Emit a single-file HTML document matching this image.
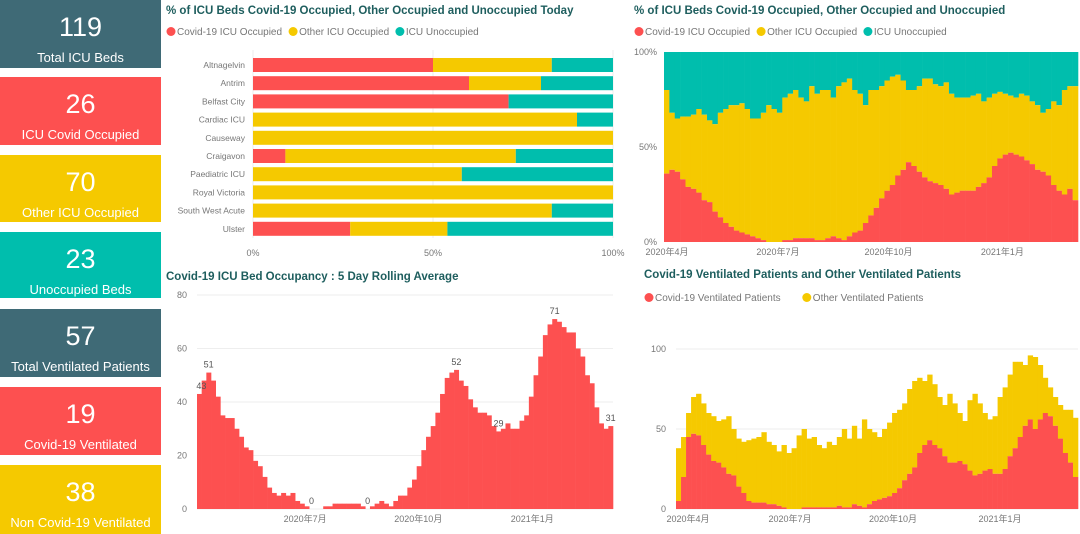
<!DOCTYPE html>
<html><head><meta charset="utf-8"><style>
body{margin:0;width:1080px;height:534px;background:#fff;overflow:hidden;font-family:"Liberation Sans","Noto Sans CJK SC",sans-serif}
.kpi{position:absolute;left:0;width:161px;color:#fff;text-align:center}
.kpi .v{font-size:27px;line-height:30px;padding-top:12px}
.kpi .l{font-size:13px;line-height:16px;margin-top:8px}
svg text{font-family:"Liberation Sans","Noto Sans CJK SC",sans-serif}
</style></head><body>
<div class="kpi" style="top:0;height:68px;background:#3f6a76"><div class="v">119</div><div class="l">Total ICU Beds</div></div>
<div class="kpi" style="top:77px;height:68px;background:#fd5050"><div class="v">26</div><div class="l">ICU Covid Occupied</div></div>
<div class="kpi" style="top:155px;height:67px;background:#f5c900"><div class="v">70</div><div class="l">Other ICU Occupied</div></div>
<div class="kpi" style="top:232px;height:66px;background:#00bead"><div class="v">23</div><div class="l">Unoccupied Beds</div></div>
<div class="kpi" style="top:309px;height:68px;background:#3f6a76"><div class="v">57</div><div class="l">Total Ventilated Patients</div></div>
<div class="kpi" style="top:387px;height:68px;background:#fd5050"><div class="v">19</div><div class="l">Covid-19 Ventilated</div></div>
<div class="kpi" style="top:465px;height:69px;background:#f5c900"><div class="v">38</div><div class="l">Non Covid-19 Ventilated</div></div>
<svg id="s" width="1080" height="534" style="position:absolute;left:0;top:0"></svg>
<script>
// ---- chart 1: today by hospital
const hospitals=["Altnagelvin","Antrim","Belfast City","Cardiac ICU","Causeway","Craigavon","Paediatric ICU","Royal Victoria","South West Acute","Ulster"];
const hospCovid=[50,60,71,0,0,9,0,0,0,27];
const hospOther=[33,20,0,90,100,64,58,100,83,27];
const hospUnocc=[17,20,29,10,0,27,42,0,17,46];
const pctTicks=["0%","50%","100%"];
// ---- chart 2: % over time
const covidPct=[36,38,37,33,29,28,26,22,21,16,13,10,8,6,5,4,3,2,1,0,0,0,1,1,2,2,2,2,1,1,2,3,2,1,3,5,6,10,14,18,23,27,30,35,38,42,40,37,34,32,31,30,28,25,26,27,27,27,29,31,34,40,44,46,47,46,45,43,41,38,37,35,30,27,25,28,22];
const occupiedPct=[80,68,65,66,66,67,70,67,64,62,68,70,72,72,73,70,65,65,68,72,70,68,76,78,80,76,74,82,78,80,80,76,82,84,86,80,78,72,80,80,82,85,87,88,85,80,80,82,86,86,83,82,84,78,76,76,76,77,78,74,76,78,79,78,77,76,78,77,74,72,68,70,74,72,80,82,82];
const monthTicks=["2020年4月","2020年7月","2020年10月","2021年1月"];
const monthFrac=[0,0.268,0.535,0.81];
// ---- chart 3: rolling average
const rolling=[43,48,51,48,42,35,34,34,30,27,23,22,18,16,12,8,6,5,6,5,6,3,2,1,0,0,0,1,1,2,2,2,2,2,2,1,0,1,2,3,2,1,3,5,5,8,11,16,22,27,31,36,43,49,51,52,48,46,41,38,36,36,35,31,29,30,32,30,30,33,35,42,50,57,65,69,71,70,68,66,66,60,57,50,47,38,32,30,31];
const rollLabelIdx=[0,2,24,36,55,64,76,88];
const rollTicks=[0,20,40,60,80];
// ---- chart 4: ventilated
const covidVent=[5,20,45,47,46,40,34,30,29,26,22,21,14,10,5,4,4,4,3,3,2,1,0,0,0,1,1,1,1,1,1,1,2,1,1,3,2,1,3,5,6,7,8,10,13,18,22,26,35,40,43,40,38,33,29,29,30,28,24,21,22,24,25,22,22,25,33,38,45,52,56,50,56,60,58,52,44,35,29,20];
const totalVent=[38,45,60,70,72,66,60,58,55,56,58,50,44,42,43,44,45,48,42,40,36,40,35,38,46,50,44,45,40,38,42,40,45,50,44,52,44,56,50,48,45,50,54,60,62,66,75,80,82,80,84,78,70,65,72,66,60,55,68,72,66,60,56,58,70,76,84,92,92,90,96,95,90,82,76,70,65,62,62,57];
const ventTicks=[0,50,100];

const R="#fd5050",Y="#f5c900",T="#00bead",TITLE="#1e5e5e",G="#777";
const S=document.getElementById('s');
function el(tag,a,txt){const e=document.createElementNS("http://www.w3.org/2000/svg",tag);for(const k in a)e.setAttribute(k,a[k]);if(txt!==undefined)e.textContent=txt;S.appendChild(e);return e;}
function title(x,y,t,name){const e=el('text',{x:x,y:y,'font-size':11.5,'font-weight':'bold',fill:TITLE},t);

}
function legend(x,y,items,name){let cx=x;items.forEach(it=>{
const c=el('circle',{cx:cx+5,cy:y-3.5,r:4.5,fill:it[1]});


const t=el('text',{x:cx+11,y:y,'font-size':10,fill:G},it[0]);


cx+=11+it[0].length*5.1+4;});}

// Chart 1
title(166,14,"% of ICU Beds Covid-19 Occupied, Other Occupied and Unoccupied Today","today-chart-title");
legend(166,35,[["Covid-19 ICU Occupied",R],["Other ICU Occupied",Y],["ICU Unoccupied",T]],"today-legend");
const x1=v=>253+v*3.6, rowY=i=>58+i*18.2;
pctTicks.forEach((t,i)=>{const v=i*50;const g=el('line',{x1:x1(v),x2:x1(v),y1:50,y2:238,stroke:"#eee"});


const tt=el('text',{x:x1(v),y:256,'font-size':9,fill:G,'text-anchor':'middle'},t);

});
hospitals.forEach((h,i)=>{const y=rowY(i);
const lt=el('text',{x:245,y:y+10,'font-size':8.5,fill:G,'text-anchor':'end'},h);


let acc=0;[[hospCovid[i],R],[hospOther[i],Y],[hospUnocc[i],T]].forEach(p=>{if(p[0]>0){const b=el('rect',{x:x1(acc),y:y,width:x1(acc+p[0])-x1(acc),height:14,fill:p[1]});

}acc+=p[0];});});

// Chart 2
title(634,14,"% of ICU Beds Covid-19 Occupied, Other Occupied and Unoccupied","pct-time-chart-title");
legend(634,35,[["Covid-19 ICU Occupied",R],["Other ICU Occupied",Y],["ICU Unoccupied",T]],"pct-time-legend");
{const L=664,Rr=1078,top=52,bot=242,n=covidPct.length,w=(Rr-L)/n;const y=v=>bot-(bot-top)*v/100;
for(let i=0;i<n;i++){const x=L+i*w;
const a=el('rect',{x:x,y:top,width:w+0.3,height:y(occupiedPct[i])-top,fill:T});


const b=el('rect',{x:x,y:y(occupiedPct[i]),width:w+0.3,height:y(covidPct[i])-y(occupiedPct[i]),fill:Y});


const c=el('rect',{x:x,y:y(covidPct[i]),width:w+0.3,height:bot-y(covidPct[i]),fill:R});

}
pctTicks.forEach((t,i)=>{const tt=el('text',{x:657,y:y(i*50)+3,'font-size':9,fill:G,'text-anchor':'end'},t);

});
monthTicks.forEach((m,i)=>{const tt=el('text',{x:L+monthFrac[i]*(Rr-L)+3,y:255,'font-size':9,fill:G,'text-anchor':'middle'},m);

});}

// Chart 3
title(166,280,"Covid-19 ICU Bed Occupancy : 5 Day Rolling Average","rolling-chart-title");
{const L=197,Rr=613,bot=509,top=295,n=rolling.length,w=(Rr-L)/n;const y=v=>bot-(bot-top)*v/80;
rollTicks.forEach(t=>{const g=el('line',{x1:L,x2:Rr,y1:y(t),y2:y(t),stroke:"#eee"});


const tt=el('text',{x:187,y:y(t)+3,'font-size':9,fill:G,'text-anchor':'end'},t);

});
rolling.forEach((v,i)=>{const b=el('rect',{x:L+i*w,y:y(v),width:w+0.3,height:bot-y(v),fill:R});

});
rollLabelIdx.forEach(i=>{const tt=el('text',{x:L+i*w+w/2+(i==0?2:0),y:y(rolling[i])-5,'font-size':9,fill:"#555",'text-anchor':'middle'},rolling[i]);

});
[["2020年7月",0.26],["2020年10月",0.532],["2021年1月",0.806]].forEach(m=>{const tt=el('text',{x:L+m[1]*(Rr-L),y:522,'font-size':9,fill:G,'text-anchor':'middle'},m[0]);

});}

// Chart 4
title(644,278,"Covid-19 Ventilated Patients and Other Ventilated Patients","ventilated-chart-title");
legend(644,301,[["Covid-19 Ventilated Patients",R],["Other Ventilated Patients",Y]],"ventilated-legend");
{const L=676,Rr=1078,bot=509,n=covidVent.length,w=(Rr-L)/n;const y=v=>bot-1.6*v;
ventTicks.forEach(t=>{const g=el('line',{x1:L,x2:Rr,y1:y(t),y2:y(t),stroke:"#eee"});


const tt=el('text',{x:666,y:y(t)+3,'font-size':9,fill:G,'text-anchor':'end'},t);

});
for(let i=0;i<n;i++){const x=L+i*w;
const b=el('rect',{x:x,y:y(totalVent[i]),width:w+0.3,height:y(covidVent[i])-y(totalVent[i]),fill:Y});


const c=el('rect',{x:x,y:y(covidVent[i]),width:w+0.3,height:bot-y(covidVent[i]),fill:R});

}
[[0,688],[1,790],[2,893],[3,1000]].forEach(p=>{const tt=el('text',{x:p[1],y:522,'font-size':9,fill:G,'text-anchor':'middle'},monthTicks[p[0]]);

});}
</script>
</body></html>
